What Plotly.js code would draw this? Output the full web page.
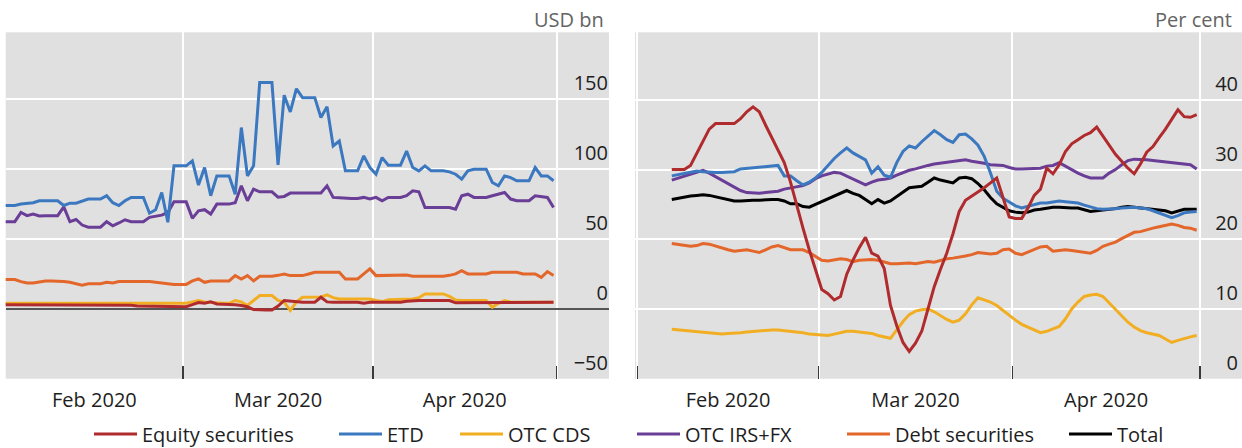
<!DOCTYPE html>
<html>
<head>
<meta charset="utf-8">
<script src="https://cdn.plot.ly/plotly-3.0.1.min.js"></script>
<style>
  html, body { margin: 0; padding: 0; background: #ffffff; }
  #chart { width: 1242px; height: 448px; }
</style>
</head>
<body>
<div id="chart"></div>
<script>
/* ── 1. DATA ─────────────────────────────────────────────── */
// daily calendar series, weekends carry Friday's value
const leftStart  = "2020-01-31";   // 91 days to 2020-04-30
const rightStart = "2020-02-06";   // 85 days to 2020-04-30

const monthStarts = ["2020-02-01", "2020-03-01", "2020-04-01", "2020-05-01"];
const monthLabels = ["Feb 2020", "Mar 2020", "Apr 2020"];

// left panel, USD bn
const equityL = [3,3,3,2.5,2.5,3,3,3,3,2.5,2.5,2.5,3,3,3,2.5,2.5,2.5,2.5,2.5,2.5,2.5,2,2,2,2,1.5,1.5,1.5,1.5,1.5,
  3,4.5,4,5,3.5,3.5,3.5,3,2.4,1.5,-0.5,-0.8,-0.8,-0.8,2,6,5.5,4.8,4.8,4.8,4.8,8.3,5,4.8,4.8,4.8,4.8,4.8,4,4.8,
  4.8,4.8,4.8,4.8,4.8,5.5,6,6,6,6,6,6,6,4.3,4.3,4.3,4.3,4.3,4.3,4.3,4.8,4.8,4.8,4.8,4.8,4.8,4.8,4.8,4.8,4.8];
const etdL = [74,74,74,75,75.5,76,77.4,77.4,77.4,77.4,74,75.7,75.7,77.4,78.6,78.6,78.6,81,76,74,77.4,79.8,79.8,79.8,68.5,71,83.3,62,102.4,102.4,102.4,
  106,88.6,101.2,81,95.2,95.2,95.2,82,129.8,95.2,102.4,162,162,162,103,153,141,157.6,151.2,151.2,151.2,137,144.8,116.7,120.2,98.8,98.8,98.8,109.5,101.2,
  96.4,108.3,102.9,102.9,102.9,113,101.2,98.8,102.4,98.8,98.8,98.8,98.1,96.4,92.9,98.8,100,100,100,90.5,88.1,95.2,94,91.7,91.7,91.7,101.2,95.2,95.2,91.7];
const cdsL = [4,4,4,4.3,4.3,4,4,4,4,4.3,4.3,4,4,4,4,4.3,4.3,4.3,4.3,4,4,4,4,4,4.3,4.3,4.3,4,4,4,4,
  5,6,5,4.5,4,4,4,6,5,2.4,6,9.5,9.5,9.5,6,4.8,-1.2,5,8.3,8.3,8.3,8.5,10,8,7,7,7,7,7,7,
  6,5.2,6.5,6.5,6.5,7,7,8,10.7,10.7,10.7,10.7,9,6.4,6,6,6,6,6,1.2,4,6,4.8,4.8,4.8,4.8,4.8,4.8,4.8,4.8];
const irsL = [62.4,62.4,62.4,69,66.7,67.9,66.5,66.7,66.7,66.7,73,62.4,64,60,58.5,58.5,58.5,62.4,59.5,61.5,63.8,62.4,62.4,62.4,65.5,66.5,67.1,69,76.6,76.6,76.6,
  64.8,70.2,71,67.9,75,75,75,76,88.1,77.4,85.7,83.8,83.8,83.8,80,80.5,82.9,82.9,82.9,82.9,82.9,83,88.1,79.8,79.5,79,79,79,79.8,78.6,
  79.8,77.4,79.8,79.8,79.8,81,84.5,83.8,72.6,72.6,72.6,72.6,72.6,71.4,81,82.1,79.8,79.8,79.8,81,82.1,83.3,78.6,77.4,77.4,77.4,81,80.5,79.8,72.6];
const debtL = [21,21,21,19.5,18.5,18.5,19.5,20,20,20,19.5,19,18,17,18,18,18,19,18.5,19.5,19.5,20,20,20,19.5,19,18.5,17.5,17.5,17.5,17.5,
  20,21.4,19,20,20,20,20,23.8,21.4,23.8,20,23.3,23.3,23.3,24,25,23.8,23.8,23.8,25,26.2,26.2,26.2,26.2,26.2,21.4,21.4,21.4,25,28.6,
  23.8,23.8,23.8,23.8,24,24.3,23.3,23.3,23.3,23.3,23.3,23.3,24,25,27.4,25,25,25,25,26.2,26.2,26.2,26.2,26.2,25,25,25,22.6,26.7,23.8];

// right panel, per cent
const equityR = [30,30,30,30.6,32.3,34,35.8,36.6,36.6,36.6,36.6,37.3,38.3,39,38.3,36.4,34.6,33,31,28.2,24.8,21.6,18.5,15.6,12.8,
  12.2,11.3,11.8,15,17,18.8,20.3,18,17.6,15.8,10.5,7.6,5.2,3.9,5.1,6.8,10,13.2,15.7,18,20.8,24,25.6,26.2,26.7,27.4,28.1,28.8,26,23.2,
  23,23,24.5,26.3,27.2,30.2,29.4,30.7,32.6,33.7,34.3,34.9,35.3,36.1,34.8,33.5,32.2,31.2,30.2,29.4,30.8,32.5,33.3,34.6,35.8,37.2,38.6,37.6,37.5,37.9];
const etdR = [29.1,29.3,29.5,29.6,29.8,29.7,29.6,29.6,29.6,29.6,29.7,30.1,30.2,30.3,30.4,30.5,30.5,30.6,29.1,29.1,28.4,27.8,28.2,28.8,29.6,
  30.6,31.6,32.4,33.1,32.4,31.9,31.4,29.5,30.4,29.2,28.9,31,32.6,33.4,33.1,34,34.8,35.6,35,34.3,33.9,35,35.1,34.4,33.5,31.9,29.5,26.9,25.9,25.3,
  24.8,24.5,24.7,25,25.2,25.2,25.4,25.5,25.4,25.3,25.2,24.9,24.6,24.4,24.3,24.3,24.4,24.5,24.6,24.6,24.5,24.4,24.1,23.8,23.4,23.1,23.4,23.8,23.9,24];
const cdsR = [7.1,7,6.9,6.8,6.7,6.6,6.5,6.4,6.4,6.5,6.5,6.6,6.7,6.8,6.9,6.9,7,7,6.9,6.8,6.8,6.6,6.4,6.3,6.3,
  6.2,6.4,6.6,6.8,6.8,6.7,6.7,6.5,6.2,6,5.8,7,8.2,9.2,9.7,9.9,10,9.6,9,8.5,8.1,8.4,9.3,10.6,11.6,11.3,11,10.5,9.8,9,
  8.4,7.8,7.4,7,6.6,6.8,7.1,7.5,8.6,10,11,11.8,12,12.1,11.8,10.9,10,9,8.1,7.4,6.9,6.6,6.4,6.2,5.7,5.2,5.5,5.8,6,6.2];
const irsR = [28.5,28.8,29.1,29.4,29.7,29.9,29.5,29,28.5,28,27.5,27,26.7,26.6,26.6,26.7,26.8,26.9,27.2,27.4,27.5,27.7,28.1,28.7,29.1,
  29.4,29.6,29.5,29.1,28.7,28.3,27.8,28.2,28.5,28.6,28.8,29.2,29.6,29.9,30.1,30.4,30.6,30.8,30.9,31,31.1,31.3,31.4,31.2,31.1,30.9,30.7,30.6,30.6,30.3,
  30.1,30.1,30.1,30.1,30.2,30.5,30.6,31,30.5,29.9,29.5,29.1,28.8,28.8,28.8,29.5,30,30.7,31.3,31.5,31.5,31.4,31.3,31.2,31.1,31,31,30.9,30.7,30.1];
const debtR = [19.4,19.3,19.1,19,19.1,19.4,19.3,19,18.8,18.5,18.3,18.4,18.5,18.3,18.1,18.5,18.9,19.1,18.8,18.5,18.5,18.5,18.1,17.6,17,
  16.9,17,17.2,17.1,16.8,17,17.1,17.1,17,16.8,16.5,16.5,16.6,16.6,16.5,16.7,16.8,16.7,17,17.2,17.3,17.4,17.6,17.8,18.1,18,17.9,18,18.5,18.6,
  18,17.8,18.2,18.6,18.9,19,18.3,18.4,18.5,18.4,18.3,18.2,18,18.4,19,19.3,19.6,20.1,20.6,21,21.1,21.4,21.6,21.8,22,22.2,22,21.7,21.6,21.3];
const totalR = [25.7,25.9,26.1,26.2,26.3,26.4,26.3,26.1,25.9,25.7,25.5,25.5,25.6,25.6,25.6,25.7,25.7,25.7,25.5,25.1,25.1,24.7,24.6,25,25.4,
  25.9,26.3,26.6,27,26.6,26.3,25.7,25.1,25.7,25.2,25.5,26.1,26.8,27.4,27.5,27.6,28.2,28.8,28.5,28.3,28.1,28.8,28.9,28.7,28,27.1,26,25.1,24.6,24.1,
  23.9,23.8,23.9,24.2,24.3,24.5,24.6,24.6,24.5,24.5,24.5,24.3,24,24.1,24.2,24.2,24.4,24.6,24.7,24.6,24.5,24.5,24.4,24.3,24.1,23.8,24,24.3,24.3,24.3];

const leftTicks  = [-50, 0, 50, 100, 150];
const rightTicks = [0, 10, 20, 30, 40];

/* ── 2. STYLE ────────────────────────────────────────────── */
const colors = {
    equity : "#b02b2d",
    etd    : "#3b78c0",
    cds    : "#f2ae22",
    irs    : "#6a3d96",
    debt   : "#e3662a",
    total  : "#000000",
    grid   : "#ffffff",
    panel  : "#e0e0e0",
    text   : "#1e1e1e",
    unit   : "#646464"
};
const fontFamily = "'Open Sans', 'Noto Sans', sans-serif";
const FS = 20;

function dayRange(start, n) {
    const t0 = Date.parse(start + "T00:00:00Z");
    const out = [];
    for (let i = 0; i < n; i++) {
        out.push(new Date(t0 + i * 86400000).toISOString().slice(0, 10));
    }
    return out;
}

// label sits in the middle of each month
function midMonths(starts) {
    const out = [];
    for (let i = 0; i < starts.length - 1; i++) {
        const a = Date.parse(starts[i] + "T00:00:00Z");
        const b = Date.parse(starts[i + 1] + "T00:00:00Z");
        out.push(new Date((a + b) / 2).toISOString().slice(0, 16).replace("T", " "));
    }
    return out;
}

const datesL = dayRange(leftStart, equityL.length);
const datesR = dayRange(rightStart, equityR.length);
const labelPos = midMonths(monthStarts);

function line(x, y, name, color, axes, legend) {
    const t = {
        x: x, y: y, name: name,
        type: "scatter", mode: "lines",
        xaxis: axes[0], yaxis: axes[1],
        xperiod: 86400000, xperiodalignment: "middle",
        line: { color: color, width: 3 },
        showlegend: !!legend,
        hoverinfo: "skip"
    };
    if (legend) t.legend = legend;
    return t;
}

/* ── 3. TRACES ───────────────────────────────────────────── */
const L = ["x", "y"], R = ["x2", "y2"];
const traces = [
    line(datesL, cdsL,    "OTC CDS",           colors.cds,    L),
    line(datesL, debtL,   "Debt securities",   colors.debt,   L),
    line(datesL, equityL, "Equity securities", colors.equity, L),
    line(datesL, irsL,    "OTC IRS+FX",        colors.irs,    L),
    line(datesL, etdL,    "ETD",               colors.etd,    L),

    line(datesR, cdsR,    "OTC CDS",           colors.cds,    R, "legend3"),
    line(datesR, debtR,   "Debt securities",   colors.debt,   R, "legend5"),
    line(datesR, irsR,    "OTC IRS+FX",        colors.irs,    R, "legend4"),
    line(datesR, totalR,  "Total",             colors.total,  R, "legend6"),
    line(datesR, etdR,    "ETD",               colors.etd,    R, "legend2"),
    line(datesR, equityR, "Equity securities", colors.equity, R, "legend")
];

/* ── 4. LAYOUT ───────────────────────────────────────────── */
const W = 1242, H = 448;
const yDom = [(H - 378.7) / H, (H - 32.3) / H];

const xBase = {
    type: "date",
    tickmode: "array", tickvals: labelPos, ticktext: monthLabels,
    ticks: "", showgrid: false,
    ticklabelstandoff: 7,
    minor: {
        tickmode: "array", tickvals: monthStarts,
        ticks: "inside", ticklen: 13, tickwidth: 1.5, tickcolor: "#3a3a3a",
        showgrid: true, gridcolor: colors.grid, gridwidth: 2
    },
    showline: false, zeroline: false,
    tickfont: { family: fontFamily, size: FS, color: colors.text },
    fixedrange: true
};
const yBase = {
    side: "right",
    ticks: "", ticklabelposition: "inside top",
    ticklabelshift: -2,
    ticklabeloverflow: "allow",
    showgrid: true, gridcolor: colors.grid, gridwidth: 2,
    showline: false,
    tickfont: { family: fontFamily, size: FS, color: colors.text },
    fixedrange: true
};

function legendAt(px) {
    return {
        x: px / W, xanchor: "left",
        y: (H - 434) / H, yanchor: "middle",
        orientation: "h",
        font: { family: fontFamily, size: FS, color: colors.text },
        bgcolor: "rgba(0,0,0,0)", borderwidth: 0, itemwidth: 43
    };
}

const layout = {
    width: W, height: H,
    paper_bgcolor: "#ffffff",
    plot_bgcolor: colors.panel,
    margin: { l: 0, r: 0, t: 0, b: 0, autoexpand: false },
    font: { family: fontFamily, size: FS, color: colors.text },
    showlegend: true,
    legend:  legendAt(89),
    legend2: legendAt(334),
    legend3: legendAt(455),
    legend4: legendAt(632),
    legend5: legendAt(842),
    legend6: legendAt(1064),
    xaxis: {
        ...xBase, anchor: "y",
        domain: [5.7 / W, 609 / W],
        range: ["2020-02-01 00:15", "2020-05-09 13:27"]
    },
    yaxis: {
        ...yBase, anchor: "x",
        domain: yDom,
        range: [-50, 198],
        tickvals: leftTicks,
        ticklabelstandoff: -2,
        zeroline: true, zerolinecolor: "#555555", zerolinewidth: 2
    },
    xaxis2: {
        ...xBase, anchor: "y2",
        domain: [635 / W, 1],
        range: ["2020-01-31 14:47", "2020-05-07 18:00"]
    },
    yaxis2: {
        ...yBase, anchor: "x2",
        domain: yDom,
        range: [0, 49.7],
        tickvals: rightTicks,
        ticklabelstandoff: 1,
        zeroline: false
    },
    annotations: [
        { text: "USD bn", xref: "paper", yref: "paper", x: 606 / W, y: (H - 20) / H,
          xanchor: "right", yanchor: "middle", showarrow: false,
          font: { family: fontFamily, size: FS, color: colors.unit } },
        { text: "Per cent", xref: "paper", yref: "paper", x: 1234 / W, y: (H - 20) / H,
          xanchor: "right", yanchor: "middle", showarrow: false,
          font: { family: fontFamily, size: FS, color: colors.unit } }
    ]
};

Plotly.newPlot("chart", traces, layout, { displayModeBar: false, staticPlot: true });
</script>
</body>
</html>
